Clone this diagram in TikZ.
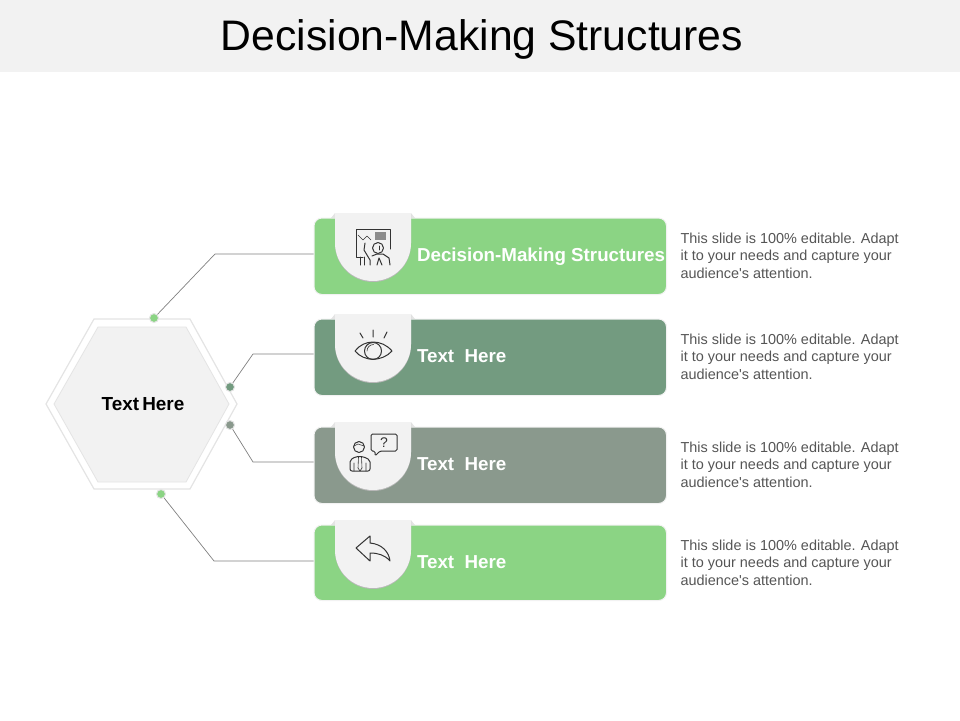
\documentclass[tikz,border=0pt]{standalone}
\usepackage{fontspec}
\setmainfont[Ligatures=TeXOff]{Liberation Sans}

\definecolor{panelgray}{HTML}{F2F2F2}
\definecolor{hexedge}{HTML}{E4E4E4}
\definecolor{leafgreen}{HTML}{8BD484}
\definecolor{sagegreen}{HTML}{739B80}
\definecolor{ashgreen}{HTML}{8A998D}
\definecolor{inkgray}{HTML}{333333}
\definecolor{bodygray}{HTML}{555555}

\tikzset{
  barbox/.style={draw=panelgray, line width=1pt, rounded corners=8pt, minimum width=352.5pt, anchor=north west},
  barlabel/.style={anchor=base west, text=white, font=\bfseries\fontsize{18.75}{20}\selectfont},
  bodytext/.style={anchor=west, align=left, text=bodygray, font=\fontsize{14.45}{17.5}\selectfont},
  dotmark/.style={circle, draw=hexedge, line width=1pt, minimum size=9pt, inner sep=0pt},
  link/.style={draw=gray, line width=0.7pt},
  icon/.style={draw=inkgray, line width=1pt, line join=round, line cap=round},
}

\begin{document}
\begin{tikzpicture}[x=1pt, y=-1pt]
  \useasboundingbox (0,0) rectangle (960,720);

  % header band
  \fill[panelgray] (0,0) rectangle (960,72);
  \node (title) at (482,39) {\fontsize{42.7}{46}\selectfont Decision-Making Structures};

  % hexagon
  \draw[hexedge, line width=1.2pt, fill=white] (46,404) -- (94,319) -- (190,319) -- (237,404) -- (190,489) -- (94,489) -- cycle;
  \draw[hexedge, line width=0.8pt, fill=panelgray] (54,404) -- (98,327) -- (186,327) -- (229,404) -- (186,482) -- (98,482) -- cycle;
  \node[font=\bfseries\fontsize{18.9}{20}\selectfont] (hub) at (143,404) {Text\hspace{-2pt} Here};

  % bars, tabs, labels
  \foreach \top/\high/\col/\lab [count=\n] in {
      218/76.5/leafgreen/Decision-Making Structures,
      319/76.5/sagegreen/Text\ \ Here,
      427/76.5/ashgreen/Text\ \ Here,
      525/75.5/leafgreen/Text\ \ Here%
    } {
      \node[barbox, fill=\col, minimum height=\high pt] (bar\n) at (313.5,\top-0.5) {};
      \fill[hexedge] (331,\top) -- (335,\top-5) -- (411,\top-5) -- (415,\top) -- cycle;
      \fill[black!28] (335,\top-4) -- (411,\top-4) -- (411,\top+26) arc[start angle=0, end angle=180, x radius=38, y radius=38] -- cycle;
      \fill[panelgray] (335,\top-5) -- (411,\top-5) -- (411,\top+25) arc[start angle=0, end angle=180, x radius=38, y radius=38] -- cycle;
      \node[barlabel] (label\n) at (413.5,\top+43.5) {\lab};
    }

  % description texts
  \foreach \mid [count=\n] in {255.5,356.5,464.5,562.5} {
    \node[bodytext] (note\n) at (677,\mid) {This slide is 100\% editable. Adapt\\it to your needs and capture your\\audience's attention.};
  }

  % dots and connectors
  \node[dotmark, fill=leafgreen] (dot1) at (154,318) {};
  \node[dotmark, fill=sagegreen] (dot2) at (230,387) {};
  \node[dotmark, fill=ashgreen] (dot3) at (230,425) {};
  \node[dotmark, fill=leafgreen] (dot4) at (161,494) {};
  \coordinate (elbow1) at (215,254);
  \coordinate (elbow2) at (253,354);
  \coordinate (elbow3) at (253,462);
  \coordinate (elbow4) at (214,561);
  \foreach \n in {1,...,4} {
    \draw[link] (dot\n) -- (elbow\n) -- (elbow\n -| bar\n.west);
  }

  % icon: presenter at board
  \draw[icon] (363,257) -- (356,257) -- (356,229) -- (390,229) -- (390,249);
  \draw[icon] (360,257) -- (360,265) (364,257) -- (364,265);
  \draw[icon, line width=0.6pt] (358,235) -- (363,240) -- (367,236) -- (371,240);
  \fill[black!45] (375,232) rectangle (386,240);
  \draw[icon] (378,248) circle[radius=5.5];
  \draw[icon, line width=0.6pt] (379,246) -- (379,250);
  \draw[icon] (365,243) -- (364,250) -- (370,260) -- (370,265);
  \draw[icon] (372,256) -- (377,254) -- (383,254) -- (389,258) -- (390,265);
  \draw[icon] (377,265) -- (379,258) -- (382,265);

  % icon: eye
  \draw[icon] (355,351) .. controls (364,339) and (382,339) .. (392,351) .. controls (382,362) and (364,362) .. cycle;
  \draw[icon] (373,351) circle[radius=8.5];
  \draw[icon, line width=0.6pt] (367,351) arc[start angle=180, end angle=270, radius=6.5];
  \draw[icon] (360,333) -- (363,338) (373,330) -- (373,337) (387,332) -- (384,338);

  % icon: person with question
  \draw[icon, rounded corners=1.5pt] (375,451) -- (375,456) -- (380,451) -- (397,451) -- (397,434) -- (371,434) -- (371,451) -- cycle;
  \node[text=inkgray, inner sep=0pt, font=\fontsize{14}{14}\selectfont] (ask) at (384,442.5) {?};
  \draw[icon] (359,447) circle[radius=5.5];
  \draw[icon, line width=0.6pt] (354,446) -- (358,444) -- (364,446);
  \draw[icon, rounded corners=2pt] (350,471) -- (350,460) -- (356,456.5) -- (363,456.5) -- (370,460) -- (370,471) -- cycle;
  \draw[icon, line width=0.6pt] (354,463) -- (354,471) (366,463) -- (366,471) (358.5,457) -- (358,468) -- (360,471) -- (362,468) -- (361.5,457);

  % icon: back arrow
  \draw[icon] (356,548) -- (370,536) -- (370,543) .. controls (382,544) and (389,552) .. (390,561) .. controls (385,555) and (378,553) .. (370,553) -- (370,561) -- cycle;
\end{tikzpicture}
\end{document}
